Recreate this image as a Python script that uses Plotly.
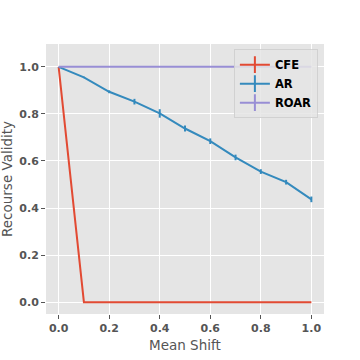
import plotly.graph_objects as go

shift = [0.0, 0.1, 0.2, 0.3, 0.4, 0.5, 0.6, 0.7, 0.8, 0.9, 1.0]
cfe = [1.0, 0.0, 0.0, 0.0, 0.0, 0.0, 0.0, 0.0, 0.0, 0.0, 0.0]
cfe_err = [0.0] * 11
ar = [1.0, 0.955, 0.894, 0.852, 0.802, 0.738, 0.684, 0.615, 0.555, 0.51, 0.437]
ar_err = [0.0, 0.003, 0.006, 0.012, 0.018, 0.013, 0.012, 0.012, 0.01, 0.01, 0.012]
roar = [1.0] * 11
roar_err = [0.0] * 11

series = [
    ("CFE", cfe, cfe_err, "#E24A33"),
    ("AR", ar, ar_err, "#348ABD"),
    ("ROAR", roar, roar_err, "#988ED5"),
]

fig = go.Figure()
for name, vals, err, color in series:
    fig.add_trace(
        go.Scatter(
            x=shift,
            y=vals,
            mode="lines",
            name=name,
            showlegend=False,
            line={"color": color, "width": 2},
            error_y={
                "type": "data",
                "array": err,
                "visible": True,
                "color": color,
                "thickness": 2,
                "width": 0,
            },
        )
    )
# legend handles: line with a vertical tick, like matplotlib errorbar
for name, vals, err, color in series:
    fig.add_trace(
        go.Scatter(
            x=[None],
            y=[None],
            mode="lines+markers",
            name=name,
            line={"color": color, "width": 2},
            marker={
                "symbol": "line-ns-open",
                "size": 12,
                "color": color,
                "line": {"color": color, "width": 2},
            },
        )
    )

axis_style = dict(
    showgrid=True,
    gridcolor="white",
    gridwidth=1,
    zeroline=False,
    showline=False,
    automargin=False,
    ticks="outside",
    ticklen=4,
    tickcolor="#555555",
    tickfont={"family": "DejaVu Sans", "size": 11, "color": "#555555", "weight": "bold"},
    tickformat=".1f",
    dtick=0.2,
    tick0=0,
)
title_font = {"family": "DejaVu Sans", "size": 13.5, "color": "#555555"}

fig.update_layout(
    width=360,
    height=360,
    margin={"l": 46, "r": 36, "t": 44, "b": 46},
    paper_bgcolor="white",
    plot_bgcolor="#E5E5E5",
    xaxis=dict(axis_style, range=[-0.05, 1.05]),
    yaxis=dict(axis_style, range=[-0.05, 1.097]),
    legend={
        "x": 0.978,
        "y": 0.981,
        "xanchor": "right",
        "yanchor": "top",
        "bgcolor": "rgba(229,229,229,0.85)",
        "bordercolor": "rgba(204,204,204,0.8)",
        "borderwidth": 1,
        "font": {"family": "DejaVu Sans", "size": 11.5, "color": "black", "weight": "bold"},
        "tracegroupgap": 0,
    },
    font={"family": "DejaVu Sans"},
    annotations=[
        dict(
            text="Mean Shift",
            xref="paper",
            yref="paper",
            x=0.5,
            y=0,
            xanchor="center",
            yanchor="middle",
            yshift=-31,
            showarrow=False,
            font=title_font,
        ),
        dict(
            text="Recourse Validity",
            xref="paper",
            yref="paper",
            x=0,
            y=0.5,
            xanchor="center",
            yanchor="middle",
            xshift=-39,
            textangle=-90,
            showarrow=False,
            font=title_font,
        ),
    ],
)

# drop the browser's default 8px body margin so the figure sits at 0,0
fig.write_html(
    "out.html",
    config={"displayModeBar": False},
    post_script="document.body.style.margin='0';",
)
